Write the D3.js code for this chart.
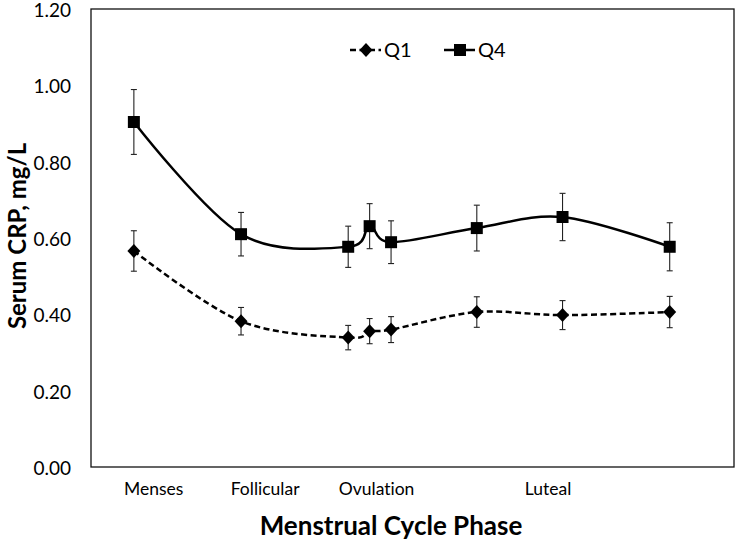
<!DOCTYPE html>
<html>
<head>
<meta charset="utf-8">
<script src="https://cdn.jsdelivr.net/npm/d3@7"></script>
<style>
  body { margin: 0; background: #fff; }
  svg text { font-family: Lato, "Open Sans", sans-serif; fill: #000; font-variant-ligatures: none; }
</style>
</head>
<body>
<svg id="svg"></svg>
<script>
// cycle day of each measurement (x), phase labels, and the two quartile series
var cycleDays   = [2, 7, 12, 13, 14, 18, 22, 27];
var q1Mean      = [0.566, 0.382, 0.339, 0.356, 0.360, 0.406, 0.398, 0.406];
var q1Err       = [0.053, 0.036, 0.032, 0.033, 0.034, 0.040, 0.038, 0.041];
var q4Mean      = [0.904, 0.610, 0.577, 0.631, 0.589, 0.626, 0.655, 0.577];
var q4Err       = [0.085, 0.057, 0.054, 0.059, 0.056, 0.060, 0.062, 0.063];
var phaseNames  = ["Menses", "Follicular", "Ovulation", "Luteal"];
var phaseAt     = [2.9, 8.1, 13.3, 21.3];
var yTicks      = [0, 0.2, 0.4, 0.6, 0.8, 1.0, 1.2];

var width = 738, height = 542;
var plotLeft = 91, plotRight = 734, plotTop = 9, plotBottom = 467;

var svg = d3.select("#svg").attr("width", width).attr("height", height);

var x = d3.scaleLinear().domain([0, 30]).range([plotLeft, plotRight]);
var y = d3.scaleLinear().domain([0, 1.2]).range([plotBottom, plotTop]);

// y axis labels
var yAxis = svg.append("g")
    .attr("transform", "translate(" + plotLeft + ",0)")
    .call(d3.axisLeft(y).tickValues(yTicks).tickSize(0).tickPadding(20).tickFormat(d3.format(".2f")));
yAxis.select(".domain").remove();
yAxis.selectAll("text").attr("dy", "0.4em")
    .style("font-size", "19px").style("font-family", "Lato, sans-serif").attr("fill", "#000");

// x axis phase labels
var xAxis = svg.append("g")
    .attr("transform", "translate(0," + plotBottom + ")")
    .call(d3.axisBottom(x).tickValues(phaseAt).tickSize(0).tickPadding(16)
        .tickFormat(function(d, i) { return phaseNames[i]; }));
xAxis.select(".domain").remove();
xAxis.selectAll("text").style("font-size", "17.5px").style("font-family", "Lato, sans-serif").attr("fill", "#000");

// plot frame
svg.append("rect")
    .attr("x", plotLeft).attr("y", plotTop)
    .attr("width", plotRight - plotLeft).attr("height", plotBottom - plotTop)
    .attr("fill", "none").attr("stroke", "#111").attr("stroke-width", 1.3);

// axis titles
svg.append("text")
    .attr("transform", "translate(26,236) rotate(-90)")
    .attr("text-anchor", "middle")
    .style("font-size", "24px").style("font-weight", "bold")
    .text("Serum CRP, mg/L");

svg.append("text")
    .attr("x", 391).attr("y", 535)
    .attr("text-anchor", "middle")
    .style("font-size", "26px").style("font-weight", "bold")
    .text("Menstrual Cycle Phase");

var line = d3.line()
    .x(function(d) { return x(d[0]); })
    .y(function(d) { return y(d[1]); })
    .curve(d3.curveCardinal.tension(0));

function drawSeries(means, errs, marker, dashed) {
    var pts = cycleDays.map(function(d, i) { return [d, means[i], errs[i]]; });
    var g = svg.append("g");

    // error bars
    var eb = g.selectAll(".eb").data(pts).enter().append("g").attr("stroke", "#222").attr("stroke-width", 1.1);
    eb.append("line")
        .attr("x1", function(d) { return x(d[0]); }).attr("x2", function(d) { return x(d[0]); })
        .attr("y1", function(d) { return y(d[1] + d[2]); }).attr("y2", function(d) { return y(d[1] - d[2]); });
    eb.append("line")
        .attr("x1", function(d) { return x(d[0]) - 3; }).attr("x2", function(d) { return x(d[0]) + 3; })
        .attr("y1", function(d) { return y(d[1] + d[2]); }).attr("y2", function(d) { return y(d[1] + d[2]); });
    eb.append("line")
        .attr("x1", function(d) { return x(d[0]) - 3; }).attr("x2", function(d) { return x(d[0]) + 3; })
        .attr("y1", function(d) { return y(d[1] - d[2]); }).attr("y2", function(d) { return y(d[1] - d[2]); });

    g.append("path")
        .attr("d", line(pts))
        .attr("fill", "none").attr("stroke", "#000").attr("stroke-width", 2.5)
        .attr("stroke-dasharray", dashed ? "6,3.5" : null);

    g.selectAll(".mk").data(pts).enter().append("path")
        .attr("transform", function(d) { return "translate(" + x(d[0]) + "," + y(d[1]) + ")"; })
        .attr("d", marker)
        .attr("fill", "#000");
}

var squareMark = d3.symbol().type(d3.symbolSquare).size(144)();
var diamondMark = "M0,-7L6.5,0L0,7L-6.5,0Z";

drawSeries(q1Mean, q1Err, diamondMark, true);
drawSeries(q4Mean, q4Err, squareMark, false);

// legend
var legend = [
    { name: "Q1", x0: 350, marker: diamondMark, dashed: true },
    { name: "Q4", x0: 444, marker: squareMark, dashed: false }
];
var lg = svg.selectAll(".lg").data(legend).enter().append("g")
    .attr("transform", function(d) { return "translate(" + d.x0 + ",50)"; });
lg.append("line")
    .attr("x1", 0).attr("x2", 31).attr("y1", 0).attr("y2", 0)
    .attr("stroke", "#000").attr("stroke-width", 2.5)
    .attr("stroke-dasharray", function(d) { return d.dashed ? "6,3.5" : null; });
lg.append("path")
    .attr("transform", "translate(16,0)")
    .attr("d", function(d) { return d.marker; })
    .attr("fill", "#000");
lg.append("text")
    .attr("x", 34).attr("y", 7)
    .style("font-size", "20px")
    .text(function(d) { return d.name; });
</script>
</body>
</html>
